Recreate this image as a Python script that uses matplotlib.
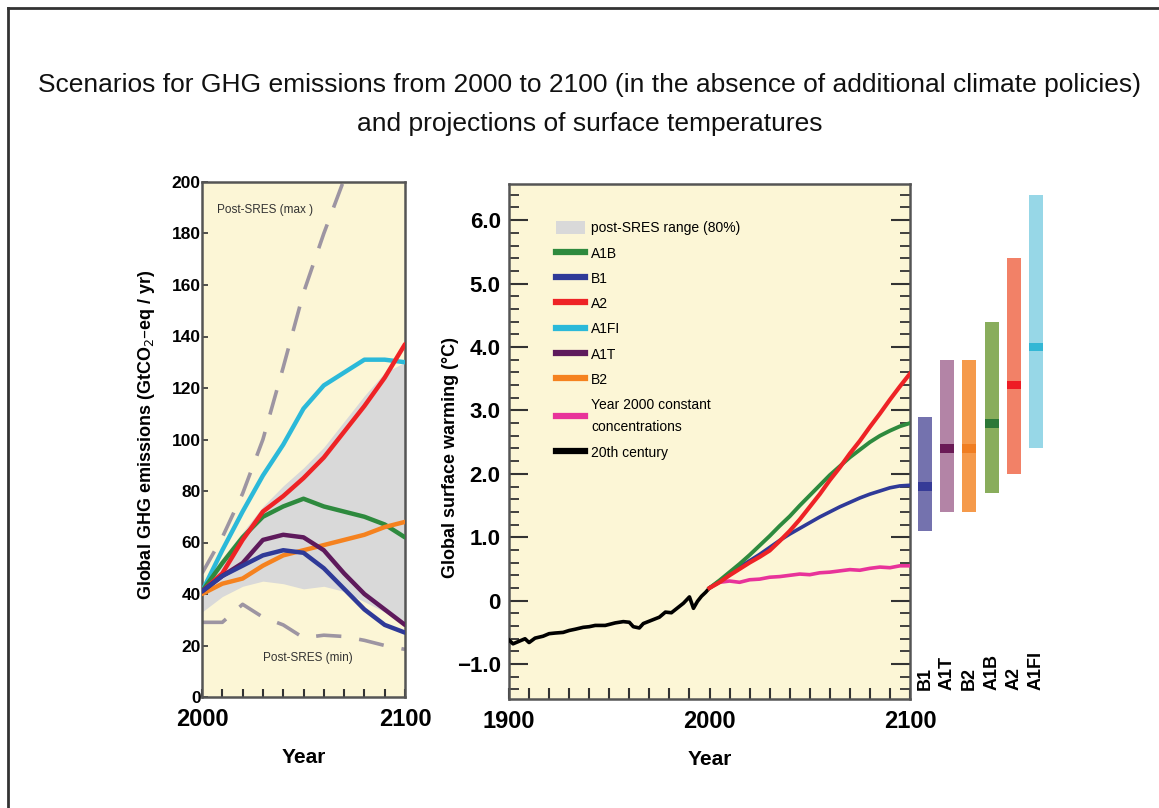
import matplotlib
matplotlib.use("Agg")
import matplotlib.pyplot as plt
from matplotlib.patches import Patch
from matplotlib.lines import Line2D
from matplotlib.ticker import MultipleLocator, FixedLocator

FAM = ['Liberation Sans Narrow', 'Liberation Sans', 'DejaVu Sans']
plt.rcParams['font.family'] = FAM

# ---------------- data: emissions panel (GtCO2-eq / yr) ----------------
em_years = [2000, 2010, 2020, 2030, 2040, 2050, 2060, 2070, 2080, 2090, 2100]
em_A1FI = [41, 57, 72, 86, 98, 112, 121, 126, 131, 131, 130]
em_A2 = [41, 48, 61, 72, 78, 85, 93, 103, 113, 124, 137]
em_A1B = [41, 52, 62, 70, 74, 77, 74, 72, 70, 67, 62]
em_A1T = [41, 47, 52, 61, 63, 62, 57, 48, 40, 34, 28]
em_B1 = [41, 47, 51, 55, 57, 56, 50, 42, 34, 28, 25]
em_B2 = [40, 44, 46, 51, 55, 57, 59, 61, 63, 66, 68]
em_max = [48, 62, 79, 100, 128, 157, 180, 201, 222, 243, 264]
em_min = [29, 29, 36, 31, 28, 23, 24, 23.5, 22, 20, 18.5]
band_low = [33, 39, 43, 45, 44, 42, 43, 41, 37, 33, 28]
band_high = [44, 54, 64, 74, 82, 89, 97, 107, 117, 126, 130]

# ---------------- data: temperature panel (deg C) ----------------
hist_years = [1900, 1902, 1905, 1908, 1910, 1913, 1917, 1920, 1923, 1927, 1930,
              1933, 1937, 1940, 1943, 1948, 1953, 1957, 1960, 1962, 1965, 1967,
              1971, 1975, 1978, 1981, 1983, 1987, 1990, 1992, 1994, 1996, 1998, 2000]
hist_temp = [-0.62, -0.68, -0.64, -0.60, -0.66, -0.59, -0.56, -0.52, -0.51, -0.50, -0.47,
             -0.45, -0.42, -0.41, -0.39, -0.39, -0.35, -0.33, -0.34, -0.41, -0.43, -0.36,
             -0.31, -0.26, -0.18, -0.19, -0.14, -0.04, 0.06, -0.12, -0.01, 0.07, 0.13, 0.20]

proj_years = [2000, 2005, 2010, 2015, 2020, 2025, 2030, 2035, 2040, 2045, 2050,
              2055, 2060, 2065, 2070, 2075, 2080, 2085, 2090, 2095, 2100]
t_A1B = [0.20, 0.32, 0.45, 0.58, 0.72, 0.87, 1.02, 1.18, 1.33, 1.50, 1.66,
         1.82, 1.98, 2.12, 2.26, 2.38, 2.50, 2.60, 2.68, 2.75, 2.80]
t_B1 = [0.20, 0.31, 0.43, 0.53, 0.63, 0.73, 0.84, 0.95, 1.05, 1.14, 1.23,
        1.32, 1.40, 1.48, 1.55, 1.62, 1.68, 1.73, 1.78, 1.81, 1.82]
t_A2 = [0.20, 0.29, 0.40, 0.50, 0.60, 0.69, 0.79, 0.94, 1.10, 1.28, 1.48,
        1.68, 1.90, 2.10, 2.32, 2.52, 2.74, 2.95, 3.17, 3.38, 3.58]
t_commit = [0.20, 0.29, 0.31, 0.29, 0.33, 0.34, 0.37, 0.38, 0.40, 0.42, 0.41,
            0.44, 0.45, 0.47, 0.49, 0.48, 0.51, 0.53, 0.52, 0.55, 0.55]

# ---------------- data: likely ranges at 2100 ----------------
bar_labels = ['B1', 'A1T', 'B2', 'A1B', 'A2', 'A1FI']
bar_best = [1.8, 2.4, 2.4, 2.8, 3.4, 4.0]
bar_low = [1.1, 1.4, 1.4, 1.7, 2.0, 2.4]
bar_high = [2.9, 3.8, 3.8, 4.4, 5.4, 6.4]

# colours
C_A1B, C_B1, C_A2, C_A1FI, C_A1T, C_B2 = '#2e8a3e', '#2f3a98', '#ee2326', '#2bb9d9', '#5e1a5c', '#f5821f'
C_COMMIT = '#e8339a'
BG = '#fcf6d6'
bar_light = ['#7472ae', '#b384a6', '#f59a4b', '#89ad5c', '#f28167', '#97d7e7']
bar_dark = ['#363b97', '#6a1a56', '#f07e22', '#2c7837', '#ee1d24', '#33b7d5']

fig = plt.figure(figsize=(11.59, 8.08), dpi=100)
W, H = 1159.0, 808.0

def rect(x0, y0, x1, y1):
    return [x0 / W, 1 - y1 / H, (x1 - x0) / W, (y1 - y0) / H]

# frame around figure (top and left edges)
fig.add_artist(Line2D([8 / W, 1.0], [1 - 8 / H, 1 - 8 / H], color='#333333', lw=2, transform=fig.transFigure))
fig.add_artist(Line2D([8 / W, 8 / W], [0.0, 1 - 8 / H], color='#333333', lw=2, transform=fig.transFigure))

fig.text(590 / W, 1 - 85 / H, 'Scenarios for GHG emissions from 2000 to 2100 (in the absence of additional climate policies)',
         ha='center', va='center', fontsize=19, color='#111111')
fig.text(590 / W, 1 - 124 / H, 'and projections of surface temperatures',
         ha='center', va='center', fontsize=19, color='#111111')

SPC = '#555555'

# ---------------- left panel ----------------
ax1 = fig.add_axes(rect(202, 182, 405, 697))
ax1.set_facecolor(BG)
ax1.fill_between(em_years, band_low, band_high, color='#d9d9d9', lw=0, zorder=1)
ax1.plot(em_years, em_max, color='#9d95a2', lw=2.6, dashes=(7, 5), zorder=2)
ax1.plot(em_years, em_min, color='#9d95a2', lw=2.6, dashes=(7, 5), zorder=2)
for vals, c in [(em_A1FI, C_A1FI), (em_A1B, C_A1B), (em_A2, C_A2), (em_B2, C_B2), (em_A1T, C_A1T), (em_B1, C_B1)]:
    ax1.plot(em_years, vals, color=c, lw=3.2, zorder=3, solid_capstyle='round')
ax1.set_xlim(2000, 2100)
ax1.set_ylim(0, 200)
ax1.xaxis.set_major_locator(FixedLocator([2000, 2100]))
ax1.xaxis.set_minor_locator(MultipleLocator(10))
ax1.yaxis.set_major_locator(MultipleLocator(20))
ax1.tick_params(axis='x', which='both', direction='in', length=6, width=1.5, color='#333333', pad=8,
                labelsize=17)
ax1.tick_params(axis='y', which='both', direction='in', length=4, width=1.2, color='#333333', pad=1,
                labelsize=12.5)
ax1.set_xticklabels(['2000', '2100'])
for lab in ax1.get_xticklabels() + ax1.get_yticklabels():
    lab.set_fontweight('bold')
for s in ax1.spines.values():
    s.set_color(SPC)
    s.set_linewidth(1.8)
ax1.text(2031, 189, 'Post-SRES (max )', ha='center', va='center', fontsize=8.5, color='#333333')
ax1.text(2052, 15, 'Post-SRES (min)', ha='center', va='center', fontsize=8.5, color='#333333')
ax1.set_ylabel('Global GHG emissions (GtCO$_2$–eq / yr)', fontsize=13, fontweight='bold')
ax1.yaxis.set_label_coords(-0.222, 0.51)
ax1.set_xlabel('Year', fontsize=15, fontweight='bold', labelpad=12)

# ---------------- middle panel ----------------
ax2 = fig.add_axes(rect(509, 184, 910, 699))
ax2.set_facecolor(BG)
ax2.plot(hist_years, hist_temp, color='black', lw=2.6, zorder=3)
ax2.plot(proj_years, t_commit, color=C_COMMIT, lw=2.6, zorder=3)
ax2.plot(proj_years, t_B1, color=C_B1, lw=2.6, zorder=3)
ax2.plot(proj_years, t_A1B, color=C_A1B, lw=2.8, zorder=3)
ax2.plot(proj_years, t_A2, color=C_A2, lw=3.0, zorder=4)
ax2.set_xlim(1900, 2100)
ax2.set_ylim(-1.55, 6.57)
ax2.xaxis.set_major_locator(FixedLocator([1900, 2000, 2100]))
ax2.xaxis.set_minor_locator(MultipleLocator(10))
ax2.yaxis.set_minor_locator(MultipleLocator(0.2))
ax2.set_yticks([-1, 0, 1, 2, 3, 4, 5, 6])
ax2.set_yticklabels(['\u22121.0', '0', '1.0', '2.0', '3.0', '4.0', '5.0', '6.0'])
ax2.set_xticklabels(['1900', '2000', '2100'])
ax2.tick_params(axis='x', which='both', direction='in', length=8, width=1.5, color='#333333', pad=8,
                labelsize=17, top=False)
ax2.tick_params(axis='y', which='major', direction='in', length=14, width=1.5, color='#333333', pad=6,
                labelsize=16, right=True)
ax2.tick_params(axis='y', which='minor', direction='in', length=7, width=1.3, color='#333333', right=True)
for lab in ax2.get_xticklabels() + ax2.get_yticklabels():
    lab.set_fontweight('bold')
for s in ax2.spines.values():
    s.set_color(SPC)
    s.set_linewidth(1.8)
ax2.set_ylabel('Global surface warming (\u00b0C)', fontsize=13, fontweight='bold')
ax2.yaxis.set_label_coords(-0.124, 0.468)
ax2.set_xlabel('Year', fontsize=15, fontweight='bold', labelpad=12)

handles = [Patch(facecolor='#d9d9d9', edgecolor='none'),
           Line2D([], [], color=C_A1B, lw=4.5),
           Line2D([], [], color=C_B1, lw=4.5),
           Line2D([], [], color=C_A2, lw=4.5),
           Line2D([], [], color=C_A1FI, lw=4.5),
           Line2D([], [], color=C_A1T, lw=4.5),
           Line2D([], [], color=C_B2, lw=4.5),
           Line2D([], [], color=C_COMMIT, lw=4.5),
           Line2D([], [], color='black', lw=4.5)]
labels = ['post-SRES range (80%)', 'A1B', 'B1', 'A2', 'A1FI', 'A1T', 'B2',
          'Year 2000 constant\nconcentrations', '20th century']
leg = ax2.legend(handles, labels, loc='upper left', bbox_to_anchor=(0.118, 0.928), frameon=False,
                 fontsize=10, handlelength=2.1, handleheight=1.1, handletextpad=0.4,
                 labelspacing=0.78, borderpad=0, borderaxespad=0)
leg.get_texts()[7].set_linespacing(1.8)

# ---------------- right bars ----------------
ax3 = fig.add_axes(rect(914, 184, 1047, 699), sharey=ax2)
ax3.set_facecolor('none')
xs = list(range(len(bar_labels)))
ax3.bar(xs, [h - l for h, l in zip(bar_high, bar_low)], bottom=bar_low, width=0.63, color=bar_light, lw=0)
ax3.bar(xs, [0.14] * len(xs), bottom=[b - 0.07 for b in bar_best], width=0.63, color=bar_dark, lw=0)
ax3.set_xlim(-0.5, len(xs) - 0.5)
for x, lab in zip(xs, bar_labels):
    ax3.text(x, 0.018, lab, rotation=90, ha='center', va='bottom', fontsize=13, fontweight='bold',
             transform=ax3.get_xaxis_transform())
ax3.axis('off')

fig.savefig('out.png', dpi=100)
